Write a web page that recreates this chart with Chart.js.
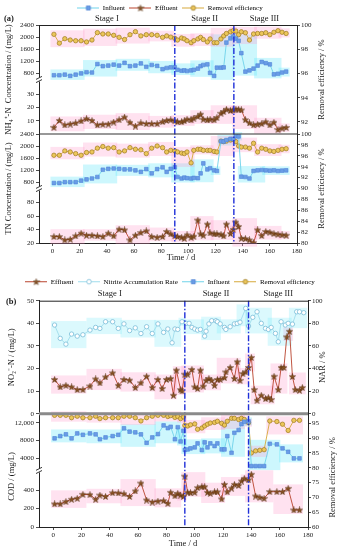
<!DOCTYPE html>
<html>
<head>
<meta charset="utf-8">
<script src="https://cdn.jsdelivr.net/npm/chart.js@4.4.1/dist/chart.umd.min.js"></script>
<style>
  html, body { margin: 0; padding: 0; background: #fff; }
  #wrap { position: relative; width: 340px; height: 550px; }
  .box { position: absolute; left: 0; width: 340px; }
  #boxA { top: 0; height: 270px; }
  #boxB { top: 270px; height: 280px; }
</style>
</head>
<body>
<div id="wrap">
  <div class="box" id="boxA"><canvas id="chartA"></canvas></div>
  <div class="box" id="boxB"><canvas id="chartB"></canvas></div>
</div>
<script>
const serif = "'Liberation Serif', 'Times New Roman', serif";
Chart.defaults.font.family = serif;
Chart.defaults.font.size = 7;
Chart.defaults.color = '#1a1a1a';

// ---- (a) NH4+-N and TN, sampling days ----
const daysA = [1, 5, 9, 13, 17, 21, 25, 29, 33, 37, 41, 45, 49, 53, 57, 61, 65, 69, 73, 77, 81, 84, 87,
  90, 92, 95, 97, 99, 102, 104, 107, 109, 111, 114, 116, 119, 121, 124, 126, 128, 131, 133,
  135, 137, 139, 142, 145, 148, 151, 154, 157, 160, 163, 166, 169, 172];

const nh4Influent = [740, 740, 760, 720, 760, 800, 840, 830, 1110, 1040, 1060, 1090, 1060, 1150, 1040, 1060, 1130, 1020, 1080, 1050, 940, 980, 1000,
  1000, 920, 890, 900, 880, 900, 920, 960, 1040, 1080, 1100, 820, 720, 990, 990, 1000, 1820, 1960, 2020,
  1950, 1880, 1470, 860, 900, 960, 1060, 1180, 1140, 1100, 770, 790, 830, 860];
const nh4Effluent = [5.0, 10.2, 6.8, 7.5, 8.3, 9.8, 11.5, 10.2, 6.8, 7.3, 7.5, 9.0, 10.7, 12.7, 8.7, 6.0, 8.3, 7.8, 7.8, 7.8, 9.3, 10.2, 10.6,
  9.9, 9.1, 9.1, 9.9, 11.1, 10.6, 11.9, 13.2, 14.9, 11.1, 10.6, 11.1, 10.6, 12.3, 15.6, 16.8, 18.6, 17.6, 18.1,
  18.6, 18.6, 18.1, 10.7, 8.3, 6.8, 7.3, 7.8, 9.2, 6.8, 8.8, 3.3, 4.4, 4.9];
const nh4Removal = [99.23, 98.5, 98.87, 98.76, 98.7, 98.7, 98.6, 98.76, 99.37, 99.26, 99.26, 99.15, 98.98, 98.8, 99.2, 99.45, 99.1, 99.2, 99.2, 99.15, 98.98, 99.1, 99.0,
  98.9, 98.76, 98.93, 98.85, 98.7, 98.54, 98.7, 98.85, 98.98, 98.8, 98.6, 98.85, 98.54, 98.54, 98.85, 99.1, 99.3, 99.44, 99.53,
  99.5, 99.2, 99.44, 99.36, 98.76, 99.26, 99.3, 99.3, 99.36, 99.2, 99.4, 99.53, 99.4, 99.3];

const tnInfluent = [780, 780, 810, 810, 810, 860, 900, 930, 980, 1220, 1250, 1260, 1250, 1230, 1230, 1200, 1150, 1240, 1100, 1240, 1300, 1150, 1250,
  1300, 980, 930, 960, 940, 930, 950, 940, 1100, 1430, 1230, 1270, 1200, 1180, 2160, 2150, 2200, 2240, 2230,
  2330, 2320, 990, 980, 930, 1180, 1200, 1210, 1200, 1190, 1200, 1180, 1190, 1200];
const tnEffluent = [29.5, 29.5, 24.5, 25.5, 30.5, 34.5, 31.5, 31.5, 30.5, 29.5, 34.5, 30.5, 40.5, 39.5, 24.5, 31.5, 35.5, 38, 29.5, 28.5, 29.5, 37, 33.5,
  30.5, 29.5, 28.5, 27, 32, 28.5, 30, 54, 33.5, 31.5, 48, 35, 33.5, 33.5, 33, 30.5, 48, 34, 40,
  51, 44.5, 27, 26.5, 24.5, 20.5, 39.5, 31, 37, 36, 34, 33, 32, 31.5];
const tnRemoval = [96.1, 96.1, 96.9, 96.7, 96.4, 96.1, 96.6, 96.7, 97.4, 97.7, 97.4, 97.5, 96.7, 96.9, 97.5, 97.2, 97.1, 96.4, 97.4, 97.8, 97.5, 96.7, 97.0,
  96.9, 96.7, 96.5, 96.4, 96.7, 94.7, 97.0, 97.2, 97.2, 97.0, 97.0, 97.0, 96.8, 96.7, 98.7, 98.6, 98.7, 98.9, 99.0,
  98.6, 97.8, 97.6, 97.6, 97.4, 98.3, 96.7, 97.4, 97.2, 96.9, 96.8, 97.0, 97.2, 97.3];

// ---- (b) nitrite and COD ----
const daysNitrite = [1, 5, 9, 13, 17, 21, 26, 30, 33, 37, 42, 46, 50, 54, 58, 62, 66, 70, 74, 77, 80, 83, 85, 87, 90, 91,
  93, 95, 98, 100, 102, 104, 106, 108, 110, 112, 114, 116, 118, 121, 122, 125, 128, 130, 132, 134, 136, 138,
  140, 142, 144, 147, 150, 152, 154, 156, 159, 161, 163, 165, 167, 169, 171, 174, 176];
const no2Effluent = [15.2, 11.9, 12.6, 11.9, 10.7, 10.7, 12.3, 15.4, 13.7, 16.3, 18.1, 12.6, 15.2, 14.9, 11.6, 13.7, 16.6, 11.6, 15.2, 11.2, 15.2, 15.6, 8.2, 19.3, 10.7, 10.1,
  17.5, 17.5, 19.6, 11.9, 11.2, 19.3, 12.2, 14.8, 15.6, 14.8, 12.6, 15.2, 15.2, 16, 18.5, 20.5, 15.6, 23, 14.8, 17.8, 18.5, 20.5,
  24.9, 10.7, 6, 8.2, 6.7, 7.2, 6.3, 16.6, 10.7, 20.5, 20.5, 34, 36.5, 16.5, 10.7, 10.4, 11.6];

const daysNar = [1, 5, 9, 13, 17, 21, 26, 30, 33, 37, 42, 46, 50, 54, 58, 62, 66, 70, 74, 78, 81, 84, 86, 88, 91,
  94, 96, 98, 100, 102, 104, 107, 108, 110, 112, 115, 116, 118, 121, 122, 125, 128, 130, 132, 136,
  138, 141, 144, 147, 150, 152, 154, 157, 159, 161, 164, 166, 169, 172, 174, 177];
const narRate = [78.5, 66.7, 61.6, 70.5, 68.7, 69.9, 74, 76.4, 75.5, 81.4, 81.4, 75.5, 79.5, 73.6, 76, 71, 77, 71, 79.5, 72, 75, 62.8, 75, 74.6, 81.4,
  80, 80, 76.4, 75, 74, 74.6, 68.7, 73, 79.5, 82.3, 82.3, 81.4, 79.5, 76.4, 74.6, 77, 79.5, 80, 81, 93.2,
  77.6, 85.3, 90.2, 80, 75.5, 74.6, 76.4, 71.1, 63.7, 81.4, 78.5, 80, 79.3, 90.2, 90.2, 89.4];

const daysCod = [1, 5, 9, 13, 17, 21, 26, 30, 33, 37, 42, 46, 50, 54, 58, 62, 66, 70, 74, 78, 81, 83, 86, 88, 90, 92,
  93, 95, 97, 100, 102, 105, 107, 109, 111, 114, 116, 119, 121, 123, 126, 128, 131, 133, 135, 138,
  140, 143, 146, 149, 153, 158, 162, 166, 170, 174];
const codInfluent = [8500, 9000, 9400, 8500, 9600, 9300, 9600, 9400, 8300, 8700, 9000, 9300, 10750, 10000, 9850, 9400, 7500, 8700, 9450, 11400, 10800, 11100, 8300, 11000, 7800, 10200,
  5900, 6000, 6250, 6470, 7370, 5870, 7600, 6470, 7370, 6770, 7370, 6020, 6020, 9000, 5260, 9750, 10360, 11700, 12230, 12300,
  2270, 2270, 2270, 2270, 7280, 7150, 6250, 5480, 4000, 4000];
const codEffluent = [250, 250, 275, 300, 310, 353, 350, 300, 345, 330, 370, 368, 360, 330, 390, 475, 292, 270, 280, 285, 256, 375, 338, 364, 345, 330,
  550, 375, 370, 375, 425, 436, 436, 375, 364, 380, 380, 303, 461, 380, 420, 461, 450, 497, 526, 510,
  570, 335, 321, 310, 382, 382, 382, 418, 184, 184];
const codRemoval = [97.7, 97.7, 97.7, 96.9, 97.4, 96.9, 96.9, 97.4, 96.6, 96.9, 96.9, 96.9, 97.4, 97.4, 96.9, 95.8, 96.9, 97.4, 97.7, 97.7, 97.3, 97.6, 97.0, 97.3, 96.6, 97.2,
  94.3, 94.1, 94.5, 94.8, 93.0, 93.4, 94.1, 94.7, 95.1, 95.3, 95.7, 95.0, 94.4, 95.7, 96.7, 96.7, 96.3, 96.7, 96.3, 95.2,
  85.0, 85.7, 85.9, 86.1, 95.8, 95.6, 94.7, 92.6, 96.0, 96.0];

const xTicks = [0, 20, 40, 60, 80, 100, 120, 140, 160, 180];
const stageNames = ['Stage I', 'Stage II', 'Stage III'];
const stageCentresA = [40, 112, 156];
const stageCentresB = [40, 115, 159];
const stageBoundsA = [90, 133.5];
const stageBoundsB = [93, 138];

function pairs(xs, ys) {
  return xs.map((x, i) => ({ x: x, y: ys[i] }));
}

function starImage(fill, edge) {
  const c = document.createElement('canvas');
  c.width = 7; c.height = 7;
  const g = c.getContext('2d');
  g.beginPath();
  for (let i = 0; i < 10; i++) {
    const r = i % 2 ? 1.35 : 3.3;
    const a = -Math.PI / 2 + i * Math.PI / 5;
    const px = 3.5 + r * Math.cos(a), py = 3.8 + r * Math.sin(a);
    if (i) g.lineTo(px, py); else g.moveTo(px, py);
  }
  g.closePath();
  g.fillStyle = fill; g.fill();
  g.strokeStyle = edge; g.lineWidth = 0.5; g.stroke();
  return c;
}
const star = starImage('#8a5424', '#4d2a0c');

// little line + marker picture for the legend
function legendIcon(ds) {
  const c = document.createElement('canvas');
  c.width = 22; c.height = 9;
  const g = c.getContext('2d');
  g.strokeStyle = ds.borderColor; g.lineWidth = 1;
  g.beginPath(); g.moveTo(0, 4.5); g.lineTo(22, 4.5); g.stroke();
  if (ds.pointStyle instanceof HTMLCanvasElement) {
    g.drawImage(ds.pointStyle, 11 - ds.pointStyle.width / 2, 1);
  } else {
    g.fillStyle = ds.pointBackgroundColor; g.strokeStyle = ds.pointBorderColor; g.lineWidth = 0.8;
    g.beginPath();
    if (ds.pointStyle === 'rect') g.rect(9, 2.5, 4, 4); else g.arc(11, 4.5, 2.3, 0, Math.PI * 2);
    g.fill(); g.stroke();
  }
  return c;
}

const pink = 'rgba(255,150,200,0.28)';
const cyan = 'rgba(90,228,248,0.30)';
const influentStyle = { borderColor: '#6fd3ea', pointStyle: 'rect', pointRadius: 2.6, pointBackgroundColor: '#6a9ce6', pointBorderColor: '#4f84d6', pointBorderWidth: 0.6, band: cyan };
const effluentStyle = { borderColor: '#b9432c', pointStyle: star, band: pink };
const removalStyle = { borderColor: '#d6a93a', pointStyle: 'circle', pointRadius: 2.2, pointBackgroundColor: '#ecc65a', pointBorderColor: '#9c7a22', pointBorderWidth: 0.7, band: pink };
const narStyle = { borderColor: '#9fdcec', pointStyle: 'circle', pointRadius: 2.2, pointBackgroundColor: '#ffffff', pointBorderColor: '#78bcd8', pointBorderWidth: 0.8, band: 'rgba(90,228,248,0.22)' };

function series(label, xs, ys, axis, style, inLegend) {
  return Object.assign({ label: label, data: pairs(xs, ys), yAxisID: axis, borderWidth: 0.9, tension: 0, fill: false, legend: inLegend }, style);
}

const axisLine = { display: true, color: '#222', width: 1 };
function yScale(c) {
  return {
    type: 'linear', position: c.pos, stack: c.stack, stackWeight: c.sw, weight: c.w,
    min: c.min, max: c.max,
    afterBuildTicks: s => { s.ticks = c.ticks.map(v => ({ value: v })); },
    afterFit: s => { s.width = c.width; },
    grid: { drawOnChartArea: false, tickLength: 3, color: '#222', lineWidth: 0.8 },
    border: axisLine,
    ticks: { padding: c.pos === 'left' ? 2 : 1, autoSkip: false, font: { size: 7 }, color: '#1a1a1a', callback: c.fmt || (v => String(v)) }
  };
}
function xScale(h) {
  return {
    type: 'linear', min: -10, max: 180,
    afterBuildTicks: s => { s.ticks = xTicks.map(v => ({ value: v })); },
    afterFit: s => { s.height = h; },
    grid: { drawOnChartArea: false, tickLength: 3, color: '#222', lineWidth: 0.8 },
    border: axisLine,
    ticks: { padding: 1, maxRotation: 0, autoSkip: false, font: { size: 7 }, color: '#1a1a1a' }
  };
}

// bands, stage lines, frame, axis breaks and free text
function makeDecor(cfg) {
  return {
    id: 'decor',
    beforeDatasetsDraw(chart) {
      const ctx = chart.ctx, xs = chart.scales.x;
      ctx.save();
      chart.data.datasets.forEach(ds => {
        if (!ds.band) return;
        const ys = chart.scales[ds.yAxisID];
        let group = [];
        const flush = () => {
          if (!group.length) return;
          const px = group.map(p => xs.getPixelForValue(p.x));
          const py = group.map(p => ys.getPixelForValue(p.y));
          const l = Math.min(...px) - 3.5, r = Math.max(...px) + 3.5;
          const t = Math.min(...py) - 4, b = Math.max(...py) + 4;
          ctx.fillStyle = ds.band;
          ctx.fillRect(l, t, r - l, b - t);
          group = [];
        };
        ds.data.forEach(p => {
          const prev = group[group.length - 1];
          if (prev) {
            const jump = Math.abs(ys.getPixelForValue(p.y) - ys.getPixelForValue(prev.y));
            const crossed = cfg.bounds.some(d => prev.x < d && p.x >= d);
            if (group.length >= 6 || jump > 25 || crossed) flush();
          }
          group.push(p);
        });
        flush();
      });
      ctx.restore();
    },
    afterDatasetsDraw(chart) {
      const ctx = chart.ctx, a = chart.chartArea, x = chart.scales.x;
      ctx.save();
      ctx.strokeStyle = '#1f2fd8'; ctx.lineWidth = 1.4; ctx.setLineDash([6, 2, 1.5, 2]);
      cfg.bounds.forEach(d => {
        const px = x.getPixelForValue(d);
        ctx.beginPath(); ctx.moveTo(px, a.top); ctx.lineTo(px, a.bottom); ctx.stroke();
      });
      ctx.restore();
    },
    afterDraw(chart) {
      const ctx = chart.ctx, a = chart.chartArea, sc = chart.scales;
      ctx.save();
      ctx.strokeStyle = '#222'; ctx.lineWidth = 1;
      ctx.beginPath(); ctx.moveTo(a.left, a.top + 0.5); ctx.lineTo(a.right, a.top + 0.5); ctx.stroke();
      const sy = sc[cfg.separator.axis].top;
      ctx.strokeStyle = cfg.separator.color; ctx.lineWidth = cfg.separator.width;
      ctx.beginPath(); ctx.moveTo(a.left, sy); ctx.lineTo(a.right, sy); ctx.stroke();

      ctx.strokeStyle = '#222'; ctx.lineWidth = 0.9;
      cfg.breaks.forEach(id => {
        const by = sc[id].bottom, bx = a.left;
        ctx.fillStyle = '#fff'; ctx.fillRect(bx - 2, by - 2, 4, 4);
        [-1.6, 1.6].forEach(off => {
          ctx.beginPath(); ctx.moveTo(bx - 3, by + off + 1.5); ctx.lineTo(bx + 3, by + off - 1.5); ctx.stroke();
        });
      });

      ctx.fillStyle = '#1a1a1a'; ctx.textAlign = 'center'; ctx.textBaseline = 'middle';
      ctx.font = '8.5px ' + serif;
      cfg.stageDays.forEach((d, i) => ctx.fillText(stageNames[i], sc.x.getPixelForValue(d), a.top + cfg.stageDy));
      ctx.fillText('Time / d', cfg.xTitle[0], cfg.xTitle[1]);
      cfg.titles.forEach(t => {
        const y = (sc[t.axes[0]].top + sc[t.axes[t.axes.length - 1]].bottom) / 2 + (t.dy || 0);
        ctx.save(); ctx.translate(t.x, y); ctx.rotate(-Math.PI / 2); ctx.fillText(t.text, 0, 0); ctx.restore();
      });
      ctx.font = 'bold 8.5px ' + serif; ctx.textAlign = 'left';
      ctx.fillText(cfg.label[0], cfg.label[1], cfg.label[2]);
      ctx.restore();
    }
  };
}

function legendOptions() {
  return {
    display: true, weight: 3000,
    labels: {
      usePointStyle: true, pointStyleWidth: 22, boxHeight: 7, padding: 4.5,
      font: { size: 7 }, color: '#1a1a1a',
      generateLabels: chart => chart.data.datasets.filter(ds => ds.legend).map(ds => ({
        text: ds.label, pointStyle: legendIcon(ds), fillStyle: 'transparent', strokeStyle: 'transparent',
        lineWidth: 0, hidden: false, datasetIndex: chart.data.datasets.indexOf(ds)
      }))
    }
  };
}
function spacer(h) {
  return { display: true, text: ' ', weight: 10, font: { size: 1, lineHeight: '1px' }, padding: { top: 0, bottom: h - 1 } };
}

new Chart(document.getElementById('chartA'), {
  type: 'line',
  data: {
    datasets: [
      series('Influent', daysA, nh4Influent, 'yNH4hi', influentStyle, true),
      series('Effluent', daysA, nh4Effluent, 'yNH4lo', effluentStyle, true),
      series('Removal efficiency', daysA, nh4Removal, 'yNH4re', removalStyle, true),
      series('Influent', daysA, tnInfluent, 'yTNhi', influentStyle, false),
      series('Effluent', daysA, tnEffluent, 'yTNlo', effluentStyle, false),
      series('Removal efficiency', daysA, tnRemoval, 'yTNre', removalStyle, false)
    ]
  },
  options: {
    responsive: true, maintainAspectRatio: false, animation: false, events: [],
    layout: { autoPadding: false, padding: 0 },
    plugins: { legend: legendOptions(), subtitle: spacer(3.5), tooltip: { enabled: false } },
    scales: {
      x: xScale(27),
      yNH4hi: yScale({ pos: 'left', stack: 'a', sw: 1, w: 4, min: 600, max: 2400, ticks: [800, 1200, 1600, 2000, 2400], width: 39 }),
      yNH4lo: yScale({ pos: 'left', stack: 'a', sw: 1, w: 3, min: 0, max: 41, ticks: [10, 20, 30], width: 39 }),
      yTNhi: yScale({ pos: 'left', stack: 'a', sw: 1, w: 2, min: 600, max: 2400, ticks: [800, 1200, 1600, 2000, 2400], width: 39 }),
      yTNlo: yScale({ pos: 'left', stack: 'a', sw: 1, w: 1, min: 20, max: 101, ticks: [20, 40, 60, 80], width: 39 }),
      yNH4re: yScale({ pos: 'right', stack: 'a', sw: 1, w: 1, min: 91, max: 100, ticks: [92, 94, 96, 98, 100], width: 43 }),
      yTNre: yScale({ pos: 'right', stack: 'a', sw: 1, w: 2, min: 80, max: 100, ticks: [80, 82, 84, 86, 88, 90, 92, 94, 96, 98, 100], width: 43 })
    }
  },
  plugins: [makeDecor({
    bounds: stageBoundsA, stageDays: stageCentresA, stageDy: -6,
    separator: { axis: 'yTNhi', color: '#333', width: 1.2 },
    breaks: ['yNH4hi', 'yTNhi'],
    xTitle: [181, 258], label: ['(a)', 4, 19],
    titles: [
      { text: 'NH\u2084\u207A-N  Concentration / (mg/L)', x: 9, axes: ['yNH4hi', 'yNH4lo'] },
      { text: 'TN Concentration / (mg/L)', x: 9, axes: ['yTNhi', 'yTNlo'] },
      { text: 'Removal efficiency / %', x: 322, axes: ['yNH4re'] },
      { text: 'Removal efficiency / %', x: 322, axes: ['yTNre'] }
    ]
  })]
});

new Chart(document.getElementById('chartB'), {
  type: 'line',
  data: {
    datasets: [
      series('Effluent', daysNitrite, no2Effluent, 'yNO2', effluentStyle, true),
      series('Nitrite Accumulation Rate', daysNar, narRate, 'yNAR', narStyle, true),
      series('Influent', daysCod, codInfluent, 'yCODhi', influentStyle, true),
      series('Removal efficiency', daysCod, codRemoval, 'yCODre', removalStyle, true),
      series('Effluent', daysCod, codEffluent, 'yCODlo', effluentStyle, false)
    ]
  },
  options: {
    responsive: true, maintainAspectRatio: false, animation: false, events: [],
    layout: { autoPadding: false, padding: { top: 3.7, left: 0, right: 0, bottom: 0 } },
    plugins: { legend: legendOptions(), subtitle: spacer(5.5), tooltip: { enabled: false } },
    scales: {
      x: xScale(23),
      yNO2: yScale({ pos: 'left', stack: 'b', sw: 2, w: 3, min: 0, max: 50, ticks: [0, 10, 20, 30, 40, 50], width: 39 }),
      yCODhi: yScale({ pos: 'left', stack: 'b', sw: 1, w: 2, min: 1300, max: 14000, ticks: [4000, 8000, 12000], width: 39,
        fmt: v => (v >= 10000 ? v.toLocaleString('en-US') : String(v)) }),
      yCODlo: yScale({ pos: 'left', stack: 'b', sw: 1, w: 1, min: 0, max: 612, ticks: [0, 200, 400], width: 39 }),
      yNAR: yScale({ pos: 'right', stack: 'b', sw: 1, w: 1, min: 0, max: 100, ticks: [0, 20, 40, 60, 80, 100], width: 32 }),
      yCODre: yScale({ pos: 'right', stack: 'b', sw: 1, w: 2, min: 60, max: 98.2, ticks: [60, 65, 70, 75, 80, 85, 90, 95], width: 32 })
    }
  },
  plugins: [makeDecor({
    bounds: stageBoundsB, stageDays: stageCentresB, stageDy: -6.7,
    separator: { axis: 'yCODhi', color: '#8a8a8a', width: 3 },
    breaks: ['yCODhi'],
    xTitle: [183, 274], label: ['(b)', 6, 32],
    titles: [
      { text: 'NO\u2082\u207B-N / (mg/L)', x: 12, axes: ['yNO2'] },
      { text: 'COD / (mg/L)', x: 12, axes: ['yCODhi', 'yCODlo'], dy: 6 },
      { text: 'NAR / %', x: 323, axes: ['yNAR'], dy: 10 },
      { text: 'Removal efficiency / %', x: 333, axes: ['yCODre'], dy: 7 }
    ]
  })]
});
</script>
</body>
</html>
